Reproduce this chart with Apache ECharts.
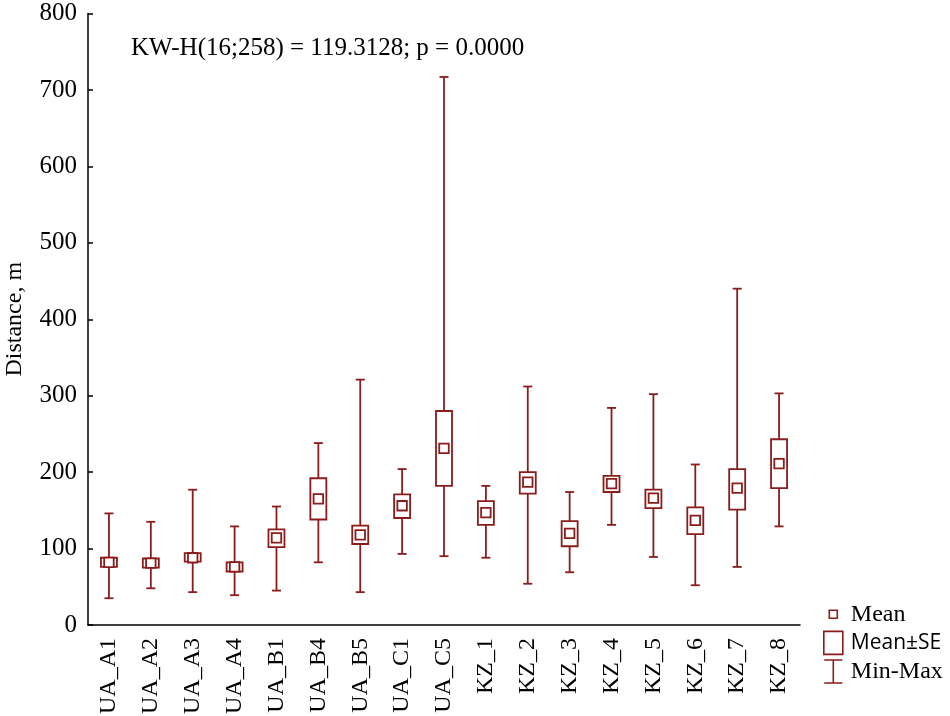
<!DOCTYPE html>
<html>
<head>
<meta charset="utf-8">
<script src="https://cdn.jsdelivr.net/npm/echarts@6/dist/echarts.min.js"></script>
<style>
  html, body { margin: 0; padding: 0; background: #fff; }
  #chart { width: 950px; height: 716px; }
</style>
</head>
<body>
<div id="chart"></div>
<script>
// groups along x
var categories = ['UA_A1', 'UA_A2', 'UA_A3', 'UA_A4', 'UA_B1', 'UA_B4', 'UA_B5', 'UA_C1', 'UA_C5',
    'KZ_1', 'KZ_2', 'KZ_3', 'KZ_4', 'KZ_5', 'KZ_6', 'KZ_7', 'KZ_8'];
// mean, mean-SE, mean+SE, min, max (m)
var means  = [82, 81, 88, 76, 114, 165, 118, 156, 231, 147, 187, 120, 185, 166, 137, 179, 211];
var seLow  = [76, 75, 83, 70, 102, 138, 106, 140, 182, 131, 172, 103, 174, 153, 119, 151, 179];
var seHigh = [88, 87, 94, 82, 125, 192, 130, 171, 280, 162, 200, 136, 195, 177, 154, 204, 243];
var minVals = [35, 48, 43, 39, 45, 82, 43, 93, 90, 88, 54, 69, 131, 89, 52, 76, 129];
var maxVals = [146, 135, 177, 129, 155, 238, 321, 204, 717, 182, 312, 174, 284, 302, 210, 440, 303];
var yTicks = { min: 0, max: 800, interval: 100 };
var statText = 'KW-H(16;258) = 119.3128; p = 0.0000';

var red = '#8b1c1c';
var serif = '"Liberation Serif", "Times New Roman", serif';

var whiskerData = [], boxData = [], meanData = [];
for (var i = 0; i < categories.length; i++) {
    whiskerData.push([i, minVals[i], maxVals[i]]);
    boxData.push([i, seLow[i], seHigh[i]]);
    meanData.push([i, means[i]]);
}

// min-max line with short caps
function drawWhisker(params, api) {
    var lo = api.coord([api.value(0), api.value(1)]);
    var hi = api.coord([api.value(0), api.value(2)]);
    var w = 4.5;
    var st = { stroke: red, lineWidth: 1.8 };
    return {
        type: 'group',
        children: [
            { type: 'line', shape: { x1: lo[0], y1: lo[1], x2: hi[0], y2: hi[1] }, style: st },
            { type: 'line', shape: { x1: lo[0] - w, y1: lo[1], x2: lo[0] + w, y2: lo[1] }, style: st },
            { type: 'line', shape: { x1: hi[0] - w, y1: hi[1], x2: hi[0] + w, y2: hi[1] }, style: st }
        ]
    };
}

// mean +- SE box
function drawBox(params, api) {
    var lo = api.coord([api.value(0), api.value(1)]);
    var hi = api.coord([api.value(0), api.value(2)]);
    var w = 16;
    return {
        type: 'rect',
        shape: { x: lo[0] - w / 2, y: hi[1], width: w, height: lo[1] - hi[1] },
        style: { fill: '#fff', stroke: red, lineWidth: 1.8 }
    };
}

// mean marker
function drawMean(params, api) {
    var p = api.coord([api.value(0), api.value(1)]);
    var s = 9.5;
    return {
        type: 'rect',
        shape: { x: p[0] - s / 2, y: p[1] - s / 2, width: s, height: s },
        style: { fill: '#fff', stroke: red, lineWidth: 1.8 }
    };
}

var myChart = echarts.init(document.getElementById('chart'));
var option = {
    backgroundColor: '#fff',
    animation: false,
    grid: { left: 88, right: 150, top: 13.5, bottom: 91, containLabel: false, outerBoundsMode: 'none' },
    title: {
        text: statText,
        left: 126,
        top: 31,
        textStyle: { fontFamily: serif, fontSize: 25, fontWeight: 'normal', color: '#000' }
    },
    legend: {
        orient: 'vertical',
        left: 818,
        top: 597,
        itemWidth: 19,
        itemHeight: 23,
        itemGap: 4,
        selectedMode: false,
        textStyle: { fontFamily: serif, fontSize: 24, color: '#000', padding: [0, 0, 0, 3] },
        data: [
            {
                name: 'Mean',
                icon: 'path://M0,0M19,23M5.5,7.5h8v8h-8z',
                itemStyle: { color: '#fff', borderColor: red, borderWidth: 1.6 }
            },
            {
                name: 'Mean±SE',
                icon: 'rect',
                itemStyle: { color: '#fff', borderColor: red, borderWidth: 1.6 },
                textStyle: { fontFamily: '"Open Sans", "Noto Sans", sans-serif', fontSize: 21 }
            },
            {
                name: 'Min-Max',
                icon: 'path://M0,0H19M9.5,0V24M0,24H19',
                itemStyle: { color: '#fff', borderColor: red, borderWidth: 1.6 }
            }
        ]
    },
    xAxis: {
        type: 'category',
        data: categories,
        boundaryGap: true,
        axisLine: { lineStyle: { color: '#000', width: 1.5 } },
        axisTick: { inside: true, alignWithLabel: true, length: 5, lineStyle: { color: '#000', width: 1.5 } },
        axisLabel: { rotate: 90, margin: 13, interval: 0, fontFamily: serif, fontSize: 24, color: '#000' },
        splitLine: { show: false }
    },
    yAxis: {
        type: 'value',
        min: yTicks.min,
        max: yTicks.max,
        interval: yTicks.interval,
        name: 'Distance, m',
        nameLocation: 'middle',
        nameGap: 61,
        nameRotate: 90,
        nameTextStyle: { fontFamily: serif, fontSize: 24, color: '#000' },
        axisLine: { show: true, lineStyle: { color: '#000', width: 1.5 } },
        axisTick: { show: true, inside: true, length: 5, lineStyle: { color: '#000', width: 1.5 } },
        axisLabel: { margin: 11, fontFamily: serif, fontSize: 25, color: '#000' },
        splitLine: { show: false }
    },
    series: [
        {
            name: 'Min-Max',
            type: 'custom',
            renderItem: drawWhisker,
            itemStyle: { color: red },
            encode: { x: 0, y: [1, 2] },
            data: whiskerData,
            z: 2
        },
        {
            name: 'Mean±SE',
            type: 'custom',
            renderItem: drawBox,
            itemStyle: { color: red },
            encode: { x: 0, y: [1, 2] },
            data: boxData,
            z: 3
        },
        {
            name: 'Mean',
            type: 'custom',
            renderItem: drawMean,
            itemStyle: { color: red },
            encode: { x: 0, y: 1 },
            data: meanData,
            z: 4
        }
    ]
};
myChart.setOption(option);
</script>
</body>
</html>
